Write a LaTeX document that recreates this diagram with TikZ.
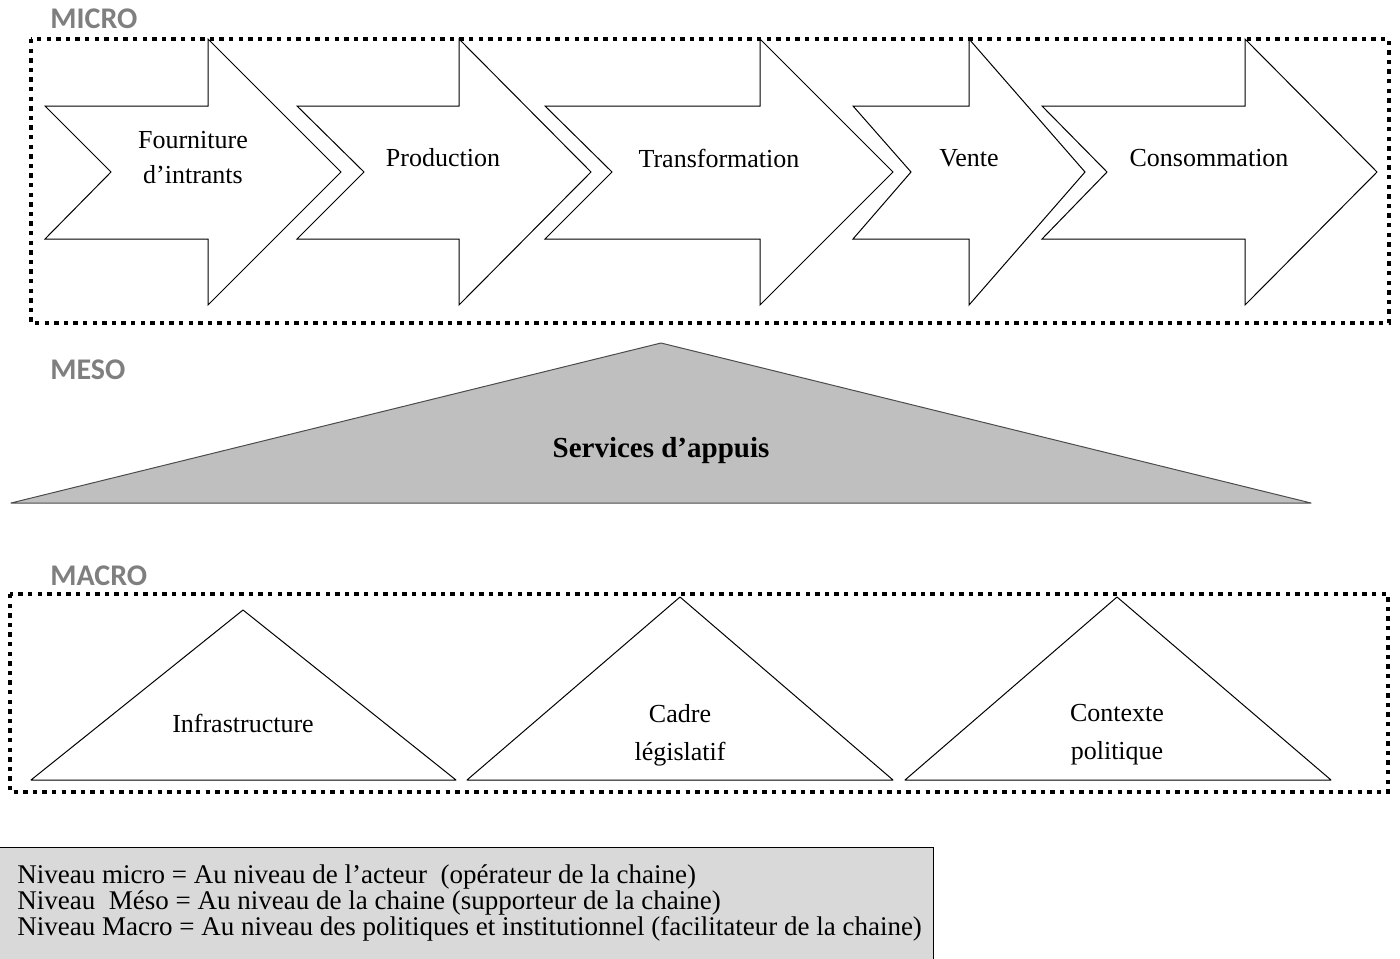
\documentclass[tikz,border=0pt]{standalone}
\usepackage{fontspec}
\setmainfont{Liberation Serif}
\newfontfamily\tierfont{Carlito}
\usepackage{tkz-euclide}
\definecolor{tiergray}{RGB}{127,127,127}
\definecolor{mesofill}{RGB}{191,191,191}
\definecolor{notefill}{RGB}{217,217,217}
\tikzset{
  dotframe/.style={line width=2.2pt, dash pattern=on 2.2pt off 2.6pt},
  chevron/.style={draw, line width=0.5pt, fill=white, line join=miter},
  lbl/.style={inner sep=0pt, align=center, font=\fontsize{13}{17.5}\selectfont},
  tierlbl/.style={inner sep=0pt, anchor=west, text=tiergray,
    font=\tierfont\bfseries\fontsize{15}{15}\selectfont},
}

\begin{document}
\begin{tikzpicture}[x=0.5pt,y=-0.5pt]
\useasboundingbox (0,0) rectangle (1400,958);
% niveau micro
\node[tierlbl] (micro) at (50,19) {MICRO};
\draw[chevron] (45,106) -- (208,106) -- (208,39) -- (341,172) -- (208,305) -- (208,239) -- (45,239) -- (111,172) -- cycle;
\draw[chevron] (297,106) -- (459,106) -- (459,39) -- (591,172) -- (459,305) -- (459,239) -- (297,239) -- (364,172) -- cycle;
\draw[chevron] (545,106) -- (760,106) -- (760,39) -- (893,172) -- (760,305) -- (760,239) -- (545,239) -- (612,172) -- cycle;
\draw[chevron] (853,106) -- (969,106) -- (969,39) -- (1085,172) -- (969,305) -- (969,239) -- (853,239) -- (911,172) -- cycle;
\draw[chevron] (1042,106) -- (1245,106) -- (1245,39) -- (1377,172) -- (1245,305) -- (1245,239) -- (1042,239) -- (1107,172) -- cycle;
\draw[dotframe] (31,39) rectangle (1389,323);
\node[lbl] (intrants) at (193,158) {Fourniture\\d’intrants};
\node[lbl] (prod) at (443,158) {Production};
\node[lbl] (transf) at (719,158) {Transformation};
\node[lbl] (vente) at (969,158) {Vente};
\node[lbl] (conso) at (1209,158) {Consommation};
% niveau meso
\node[tierlbl] (meso) at (50,370) {MESO};
\tkzDefPoints{11/503/M1,661/343/M2,1311/503/M3}
\tkzDrawPolygon[fill=mesofill,draw=black!70,line width=0.5pt](M1,M2,M3)
\node[lbl,font=\bfseries\fontsize{14.5}{17}\selectfont] (appuis) at (661,451) {Services d’appuis};
% niveau macro
\node[tierlbl] (macro) at (50,576) {MACRO};
\tkzDefPoints{31/780/I1,243/610/I2,456/780/I3,467/780/C1,680/597/C2,893/780/C3,905/780/P1,1117/597/P2,1331/780/P3}
\tkzDrawPolygon[line width=0.5pt](I1,I2,I3)
\tkzDrawPolygon[line width=0.5pt](C1,C2,C3)
\tkzDrawPolygon[line width=0.5pt](P1,P2,P3)
\draw[dotframe] (10,594) rectangle (1388,792);
\node[lbl] (infra) at (243,723) {Infrastructure};
\node[lbl,font=\fontsize{13}{19}\selectfont] (cadre) at (680,735) {Cadre\\législatif};
\node[lbl,font=\fontsize{13}{19}\selectfont] (contexte) at (1117,735) {Contexte\\politique};
% legende
\draw[fill=notefill,line width=0.5pt] (-1,847) rectangle (933,975);
\node[inner sep=0pt, anchor=west, align=left, font=\fontsize{13.5}{13}\selectfont] (note) at (17,903)
  {Niveau micro = Au niveau de l’acteur\ \ (opérateur de la chaine)\\
   Niveau\ \ Méso = Au niveau de la chaine (supporteur de la chaine)\\
   Niveau Macro = Au niveau des politiques et institutionnel (facilitateur de la chaine)};
\end{tikzpicture}
\end{document}
